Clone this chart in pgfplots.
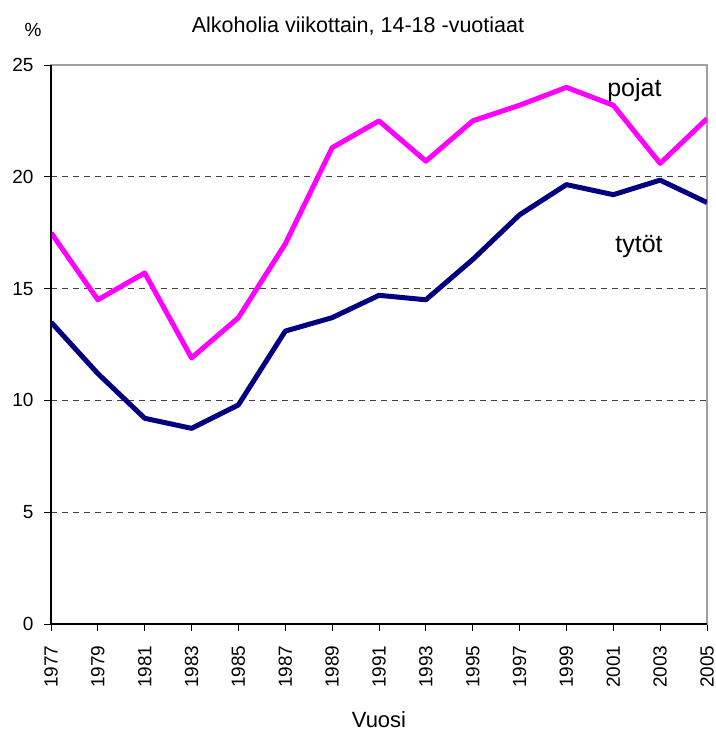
\documentclass[border=0pt]{standalone}
\usepackage{pgfplots}
\pgfplotsset{compat=1.18}
\usepackage{fontspec}
\setmainfont{Liberation Sans}
\definecolor{pojat}{HTML}{FF00FF}
\definecolor{tytot}{HTML}{000080}
\begin{document}
\fontsize{19bp}{22bp}\selectfont
\begin{tikzpicture}
\path[use as bounding box] (-51bp,-109bp) rectangle (665bp,624bp);
\begin{axis}[
  name=ax,
  at={(0,0)}, anchor=south west,
  scale only axis, width=656bp, height=559bp,
  xmin=1977, xmax=2005, ymin=0, ymax=25,
  xtick={1977,1979,...,2005}, ytick={0,5,...,25},
  tick pos=left, tick align=outside, major tick length=7bp,
  tick style={black, line width=0.8bp},
  axis line style={draw=gray!75, line width=1.2bp},
  ymajorgrids, grid style={black!75, dash pattern=on 6bp off 5bp, line width=0.8bp},
  /pgf/number format/assume math mode=true,
  /pgf/number format/1000 sep={},
  x tick label style={rotate=90, anchor=east},
  xticklabel shift=8bp, yticklabel shift=4bp,
  tick label style={font=\fontsize{19bp}{22bp}\selectfont},
  clip mode=individual,
]
\addplot[pojat, line width=5bp, line join=round] coordinates {
(1977,17.5) (1979,14.5) (1981,15.7) (1983,11.9) (1985,13.7) (1987,17.0)
(1989,21.3) (1991,22.5) (1993,20.7) (1995,22.5) (1997,23.2) (1999,24.0)
(2001,23.2) (2003,20.6) (2005,22.6)};
\addplot[tytot, line width=5bp, line join=round] coordinates {
(1977,13.5) (1979,11.2) (1981,9.2) (1983,8.75) (1985,9.8) (1987,13.1)
(1989,13.7) (1991,14.7) (1993,14.5) (1995,16.3) (1997,18.3) (1999,19.65)
(2001,19.2) (2003,19.85) (2005,18.85)};
\node[anchor=base, font=\fontsize{25bp}{28bp}\selectfont] at (axis cs:2001.9,23.6) {pojat};
\node[anchor=base, font=\fontsize{25bp}{28bp}\selectfont] at (axis cs:2002.1,16.6) {tytöt};
\end{axis}
\draw[black, line width=1.2bp] (ax.north west) -- (ax.south west) -- (ax.south east);
\node[anchor=base, font=\fontsize{21.5bp}{24bp}\selectfont] at (307bp,591bp) {Alkoholia viikottain, 14-18 -vuotiaat};
\node[anchor=base] at (-18bp,587bp) {\%};
\node[anchor=base, inner sep=1bp, font=\fontsize{22bp}{25bp}\selectfont] at (328bp,-103bp) {Vuosi};
\end{tikzpicture}
\end{document}
